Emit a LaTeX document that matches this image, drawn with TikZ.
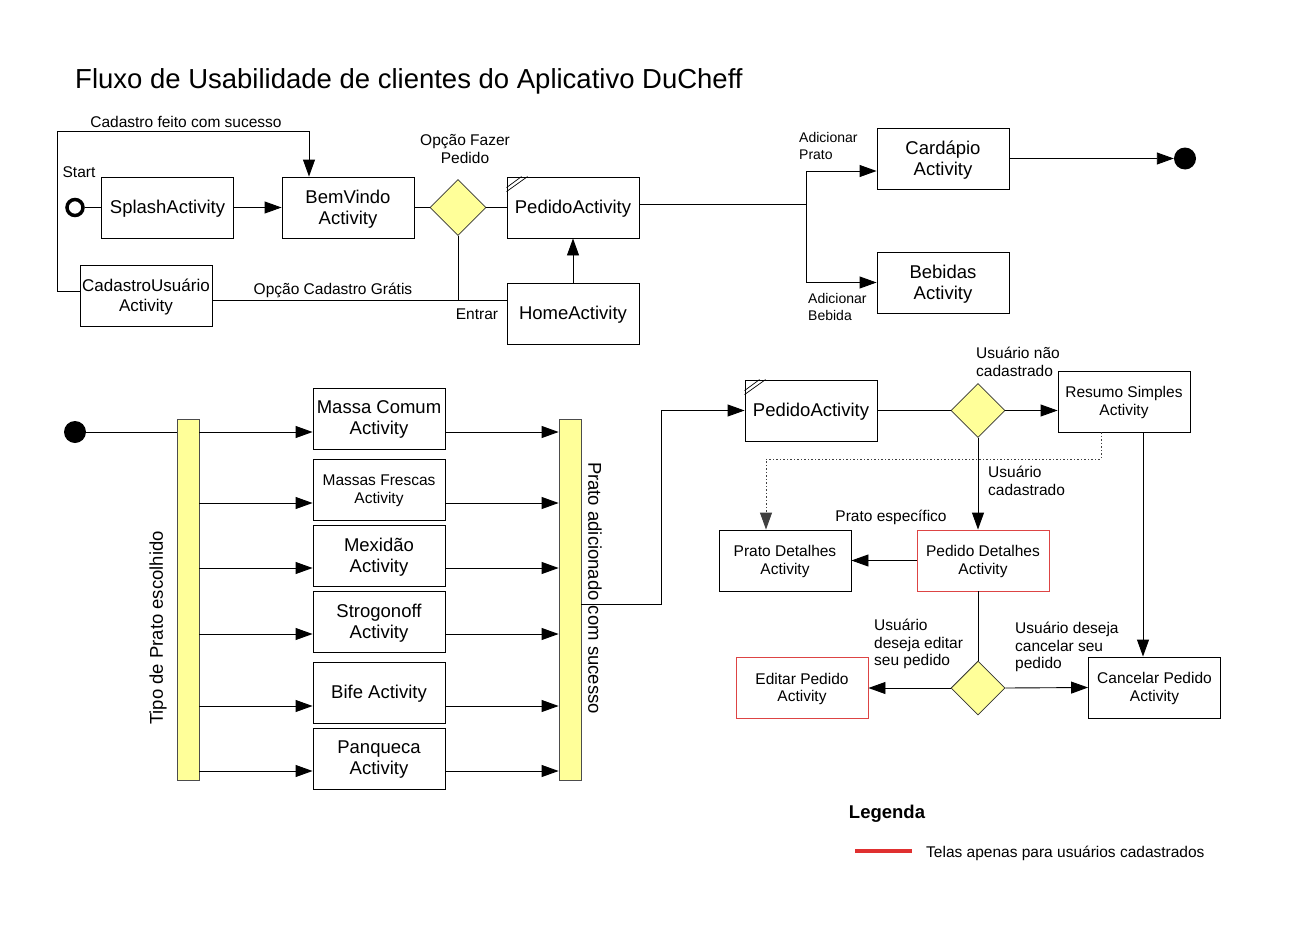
\documentclass[tikz,border=0pt]{standalone}
\usepackage{fontspec}
\setmainfont{Liberation Sans}
\usetikzlibrary{arrows.meta,shapes.geometric}
\definecolor{ylw}{HTML}{FFFF99}
\definecolor{redb}{HTML}{DD4444}
\definecolor{redl}{HTML}{E03030}
\begin{document}
\begin{tikzpicture}[x=1pt,y=-1pt,
  box/.style={draw=black, line width=0.9pt, minimum width=132pt, minimum height=61pt, inner sep=2pt, align=center, text depth=1pt, font=\fontsize{18.5}{21}\selectfont},
  sbox/.style={box, font=\fontsize{15.5}{17.5}\selectfont},
  rbox/.style={sbox, draw=redb},
  dec/.style={diamond, draw=black!80, fill=ylw, line width=0.8pt, minimum width=56pt, minimum height=56pt, inner sep=0pt},
  bar/.style={draw=black!70, fill=ylw, line width=0.8pt, minimum width=22pt, minimum height=361pt, inner sep=0pt},
  lbl/.style={font=\fontsize{15.5}{17.5}\selectfont, align=center, inner sep=0pt},
  llbl/.style={font=\fontsize{15.5}{17.5}\selectfont, align=left, inner sep=0pt, anchor=west},
  slbl/.style={font=\fontsize{14}{17}\selectfont, align=left, inner sep=0pt, anchor=west},
  conn/.style={line width=0.9pt},
  arr/.style={conn, -{Triangle[length=17pt,width=12pt]}},
  endc/.style={circle, fill=black, minimum size=22pt, inner sep=0pt},
  cornermark/.style={line width=0.7pt},
]
\useasboundingbox (0,0) rectangle (1309,926);
\fill[white] (0,0) rectangle (1309,926);

% title
\node[anchor=west, inner sep=0pt, font=\fontsize{27.5}{30}\selectfont] (title) at (75,81) {Fluxo de Usabilidade de clientes do Aplicativo DuCheff};

% ---------- top section ----------
\node[circle, draw=black, line width=3.5pt, fill=white, minimum size=16pt, inner sep=0pt] (s1) at (75,207.5) {};
\node[lbl] (lstart) at (79,172) {Start};
\node[box] (splash) at (167.5,207.5) {SplashActivity};
\node[box] (bem) at (348,207.5) {BemVindo\\Activity};
\node[dec] (d1) at (458,207.5) {};
\node[box] (ped) at (573,207.5) {PedidoActivity};
\node[box] (home) at (573,313.5) {HomeActivity};
\node[box, font=\fontsize{17}{20}\selectfont] (cad) at (146,295.5) {CadastroUsuário\\Activity};
\node[box] (card) at (943,158.5) {Cardápio\\Activity};
\node[box] (beb) at (943,282.5) {Bebidas\\Activity};
\node[endc] (e1) at (1185,158.5) {};

\draw[cornermark] ([yshift=-11]ped.north west) -- ([xshift=15]ped.north west);
\draw[cornermark] ([yshift=-15]ped.north west) -- ([xshift=21]ped.north west);

\draw[conn] (s1) -- (splash.west);
\draw[arr] (splash.east) -- (bem.west);
\draw[conn] (bem.east) -- (d1.west);
\draw[conn] (d1.east) -- (ped.west);
\draw[arr] (home.north) -- (ped.south);
\coordinate (j1) at (458,300);
\draw[conn] (cad.east |- j1) -- (home.west |- j1);
\draw[conn] (d1.south) -- (j1);
\coordinate (c1) at (57,131);
\draw[arr] ([yshift=4]cad.west) -| (c1) -| ([xshift=-39]bem.north);

\coordinate (br0) at (806,204);
\coordinate (br1) at (806,171);
\coordinate (br2) at (806,282.5);
\draw[conn] (ped.east |- br0) -- (br0);
\draw[conn] (br1) -- (br2);
\draw[arr] (br1) -- (br1 -| card.west);
\draw[arr] (br2) -- (beb.west);
\draw[arr] (card.east) -- (e1.west);

\node[lbl] (l1) at (186,122) {Cadastro feito com sucesso};
\node[lbl] (l2) at (465,149) {Opção Fazer\\Pedido};
\node[lbl] (l3) at (333,290) {Opção Cadastro Grátis};
\node[lbl] (l4) at (477,314) {Entrar};
\node[slbl] (l5) at (799,146) {Adicionar\\Prato};
\node[slbl] (l6) at (808,307) {Adicionar\\Bebida};

% ---------- bottom left ----------
\node[endc] (s2) at (75,432) {};
\node[bar] (bar1) at (188,599.5) {};
\node[bar] (bar2) at (570,599.5) {};
\node[lbl, font=\fontsize{18.5}{21}\selectfont, rotate=90] (t1) at (158,628) {Tipo de Prato escolhido};
\node[lbl, font=\fontsize{18.5}{21}\selectfont, rotate=-90] (t2) at (595,588) {Prato adicionado com sucesso};

\node[box] (m1) at (379,418.5) {Massa Comum\\Activity};
\node[sbox] (m2) at (379,489.5) {Massas Frescas\\Activity};
\node[box] (m3) at (379,555.5) {Mexidão\\Activity};
\node[box] (m4) at (379,621.5) {Strogonoff\\Activity};
\node[box] (m5) at (379,692.5) {Bife Activity};
\node[box] (m6) at (379,758.5) {Panqueca\\Activity};

\draw[conn] (s2) -- (s2 -| bar1.west);
\foreach \n/\yy in {m1/432, m2/503, m3/568, m4/634, m5/706, m6/771}{
  \coordinate (r\n) at (0,\yy);
  \draw[arr] (bar1.east |- r\n) -- (\n.west |- r\n);
  \draw[arr] (\n.east |- r\n) -- (bar2.west |- r\n);
}

% ---------- bottom right ----------
\node[box] (ped2) at (811,410.5) {PedidoActivity};
\draw[cornermark] ([yshift=-11]ped2.north west) -- ([xshift=15]ped2.north west);
\draw[cornermark] ([yshift=-15]ped2.north west) -- ([xshift=21]ped2.north west);
\node[dec, minimum width=54pt, minimum height=54pt] (d2) at (978,410.5) {};
\node[sbox] (res) at (1124,401.5) {Resumo Simples\\Activity};
\node[rbox] (pdet) at (983,560.5) {Pedido Detalhes\\Activity};
\node[sbox] (prdet) at (785,560.5) {Prato Detalhes\\Activity};
\node[dec, minimum width=54pt, minimum height=54pt] (d3) at (978,688) {};
\node[rbox] (edit) at (802,688) {Editar Pedido\\Activity};
\node[sbox] (canc) at (1154.5,687.5) {Cancelar Pedido\\Activity};

\coordinate (k) at (661,604);
\draw[arr] (bar2.east |- k) -- (k) |- (ped2.west);
\draw[conn] (ped2.east) -- (d2.west);
\draw[arr] (d2.east) -- (d2.east -| res.west);
\draw[arr] (d2.south) -- (d2.south |- pdet.north);
\draw[arr] (pdet.west) -- (prdet.east);
\coordinate (dt) at (0,459);
\draw[arr, black!75, dash pattern=on 1.5pt off 2pt] ([xshift=-23]res.south) -- ([xshift=-23]res.south |- dt) -| ([xshift=-19]prdet.north);
\draw[arr] ([xshift=19]res.south) -- ([xshift=19]res.south |- canc.north);
\draw[conn] (pdet.south -| d3) -- (d3.north);
\draw[arr] (d3.west) -- (edit.east);
\draw[arr] (d3.east) -- (canc.west);

\node[llbl] (l7) at (976,362) {Usuário não\\cadastrado};
\node[llbl] (l8) at (988,481) {Usuário\\cadastrado};
\node[lbl] (l9) at (891,517) {Prato específico};
\node[llbl] (l10) at (874,644) {Usuário\\deseja editar\\seu pedido};
\node[llbl] (l11) at (1015,647) {Usuário deseja\\cancelar seu\\pedido};

% legend
\node[inner sep=0pt, font=\fontsize{18.5}{21}\selectfont\bfseries] (leg) at (887,814) {Legenda};
\coordinate (lg1) at (855,851);
\coordinate (lg2) at (912,851);
\draw[redl, line width=4.5pt] (lg1) -- (lg2);
\node[llbl] (legt) at (926,853) {Telas apenas para usuários cadastrados};
\end{tikzpicture}
\end{document}
